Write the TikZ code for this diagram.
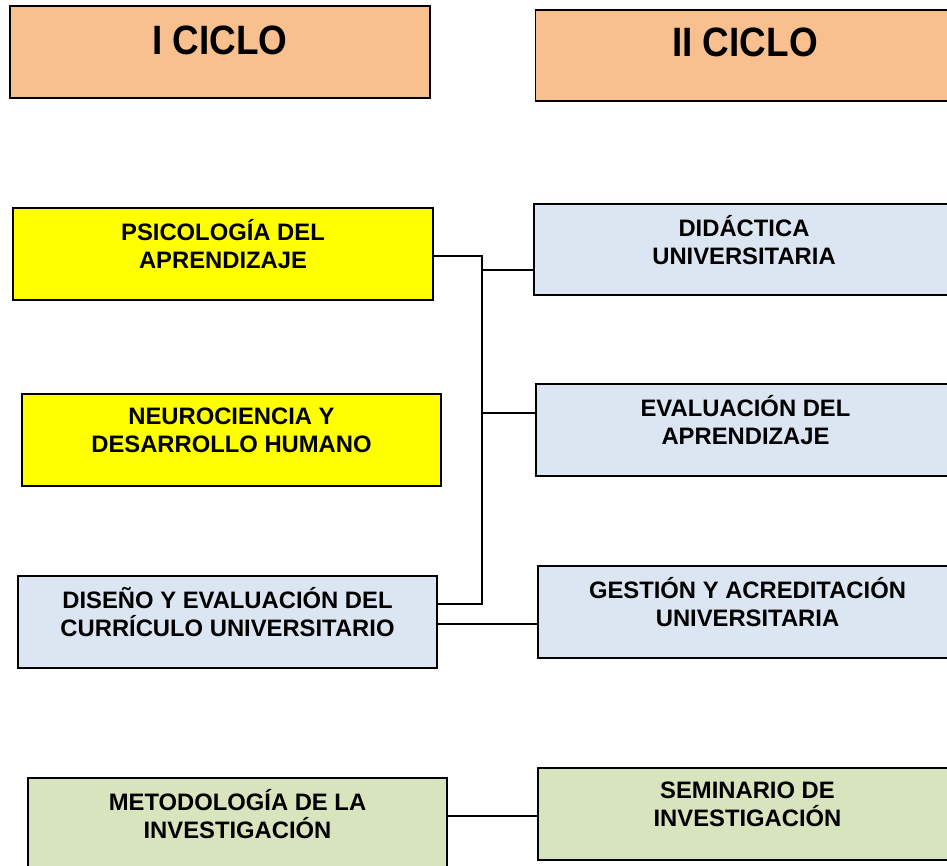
\documentclass[tikz,border=0pt]{standalone}
\usepackage{fontspec}
\setmainfont{Liberation Sans}
\definecolor{peach}{HTML}{F9C08F}
\definecolor{yel}{HTML}{FFFF00}
\definecolor{lblue}{HTML}{DCE6F2}
\definecolor{lgreen}{HTML}{D7E4BD}
\tikzset{
  box/.style={draw=black, line width=1.6pt, minimum width=419pt, minimum height=92pt, inner sep=0pt},
  txt/.style={align=center, font=\bfseries\fontsize{23.8}{28}\selectfont, yshift=9.5pt},
  ttl/.style={align=center, font=\bfseries\fontsize{41}{48}\selectfont, xscale=0.9, yshift=12pt},
  conn/.style={draw=black, line width=1.5pt}
}
\begin{document}
\begin{tikzpicture}[x=1pt,y=-1pt]
\useasboundingbox (0,0) rectangle (947,865);
\node[box, fill=peach, minimum width=420pt, label={[ttl]center:I CICLO}] (c1) at (220,52) {};
\node[box, fill=peach, minimum height=91pt, label={[ttl, yshift=1pt]center:II CICLO}] (c2) at (745,55.5) {};
\node[box, fill=yel, minimum width=420pt, label={[txt]center:{PSICOLOGÍA DEL\\APRENDIZAJE}}] (psico) at (223,254) {};
\node[box, fill=lblue, minimum width=420pt, minimum height=91pt, label={[txt]center:{DIDÁCTICA\\UNIVERSITARIA}}] (did) at (744,249.5) {};
\node[box, fill=yel, label={[txt]center:{NEUROCIENCIA Y\\DESARROLLO HUMANO}}] (neuro) at (231.5,440) {};
\node[box, fill=lblue, label={[txt]center:{EVALUACIÓN DEL\\APRENDIZAJE}}] (eval) at (745.5,430) {};
\node[box, fill=lblue, label={[txt]center:{DISEÑO Y EVALUACIÓN DEL\\CURRÍCULO UNIVERSITARIO}}] (dis) at (227.5,622) {};
\node[box, fill=lblue, label={[txt]center:{GESTIÓN Y ACREDITACIÓN\\UNIVERSITARIA}}] (gest) at (747.5,612) {};
\node[box, fill=lgreen, label={[txt]center:{METODOLOGÍA DE LA\\INVESTIGACIÓN}}] (meto) at (237.5,824) {};
\node[box, fill=lgreen, label={[txt]center:{SEMINARIO DE\\INVESTIGACIÓN}}] (sem) at (747.5,814) {};
\coordinate (jtop) at (482,256);
\coordinate (jbot) at (482,604);
\coordinate (j1) at (482,270);
\coordinate (j2) at (482,413);
\coordinate (g) at (480,624);
\coordinate (m) at (480,816);
\draw[conn] (psico.east |- jtop) -- (jtop) -- (jbot) -- (dis.east |- jbot);
\draw[conn] (j1) -- (did.west |- j1);
\draw[conn] (j2) -- (eval.west |- j2);
\draw[conn] (dis.east |- g) -- (gest.west |- g);
\draw[conn] (meto.east |- m) -- (sem.west |- m);
\end{tikzpicture}
\end{document}
